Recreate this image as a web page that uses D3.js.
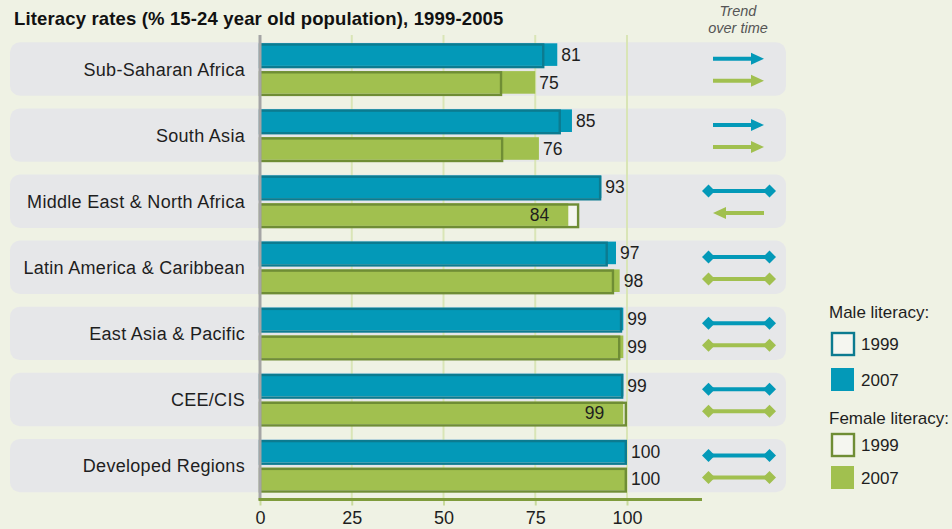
<!DOCTYPE html>
<html>
<head>
<meta charset="utf-8">
<script src="https://cdn.jsdelivr.net/npm/d3@7"></script>
<style>
  html, body { margin: 0; padding: 0; background: #eff2e4; }
  svg { display: block; }
  text { font-family: "Liberation Sans", Arial, Helvetica, sans-serif; }
</style>
</head>
<body>
<svg id="chart" width="952" height="529"></svg>
<script>
// ---- data ----
const categories = ["Sub-Saharan Africa", "South Asia", "Middle East & North Africa",
  "Latin America & Caribbean", "East Asia & Pacific", "CEE/CIS", "Developed Regions"];
const male1999   = [77.5, 82, 93, 94.8, 98.7, 99, 100];
const male2007   = [81, 85, 93, 97, 99, 99, 100];
const female1999 = [66, 66.3, 87, 96.5, 98.2, 100, 100];
const female2007 = [75, 76, 84, 98, 99, 99, 100];
const maleTrend   = ["up", "up", "same", "same", "same", "same", "same"];
const femaleTrend = ["up", "up", "down", "same", "same", "same", "same"];
const xTicks = [0, 25, 50, 75, 100];
const title = "Literacy rates (% 15-24 year old population), 1999-2005";

// ---- styles ----
const C = {
  bg: "#eff2e4", panel: "#e6e7e9", grid: "#d9e5b6",
  teal: "#0399b8", tealDark: "#0c7b90",
  green: "#a1c04f", greenDark: "#6f8d35",
  axisGreen: "#7f9c3c", axisGray: "#a5a5a5", text: "#1e1e1e", empty: "#f5f6f0"
};

const svg = d3.select("#chart");
svg.append("rect").attr("width", 952).attr("height", 529).attr("fill", C.bg);

const x = d3.scaleLinear().domain([0, 100]).range([260, 627]);
const y = d3.scaleBand().domain(categories).range([42.3, 492.3]).paddingInner(0.192).paddingOuter(0);

// title
svg.append("text").attr("x", 14).attr("y", 25).attr("font-size", 18.5).attr("font-weight", "bold")
  .attr("letter-spacing", 0.15).attr("fill", "#111").text(title);

// trend header
svg.append("text").attr("x", 738).attr("y", 16).attr("text-anchor", "middle")
  .attr("font-size", 14.5).attr("font-style", "italic").attr("fill", "#555").text("Trend");
svg.append("text").attr("x", 738).attr("y", 33).attr("text-anchor", "middle")
  .attr("font-size", 14.5).attr("font-style", "italic").attr("fill", "#555").text("over time");

// panels
svg.append("g").selectAll("rect").data(categories).join("rect")
  .attr("x", 10).attr("y", d => y(d)).attr("width", 776).attr("height", y.bandwidth())
  .attr("rx", 10).attr("fill", C.panel);

// gridlines
svg.append("g").selectAll("line").data(xTicks.filter(t => t > 0)).join("line")
  .attr("x1", d => x(d)).attr("x2", d => x(d)).attr("y1", 35).attr("y2", 500)
  .attr("stroke", C.grid).attr("stroke-width", 2);

// category labels
svg.append("g").selectAll("text").data(categories).join("text")
  .attr("x", 245).attr("y", d => y(d) + y.bandwidth() / 2 + 6.5)
  .attr("text-anchor", "end").attr("font-size", 18).attr("letter-spacing", 0.3)
  .attr("fill", C.text).text(d => d);

// bars
const rows = categories.map((c, i) => ({
  c, i,
  bars: [
    { v99: male1999[i], v07: male2007[i], fill: C.teal, dark: C.tealDark, off: 1, trend: maleTrend[i] },
    { v99: female1999[i], v07: female2007[i], fill: C.green, dark: C.greenDark, off: 28.8, trend: femaleTrend[i] }
  ]
}));
const barH = 22.6;
const gBars = svg.append("g");
rows.forEach(r => {
  r.bars.forEach(b => {
    const top = y(r.c) + b.off;
    // 1999 base (empty)
    gBars.append("rect").attr("x", x(0)).attr("y", top + 1.2)
      .attr("width", x(b.v99) - x(0) - 1.2).attr("height", barH).attr("fill", C.empty);
    // 2007 fill
    gBars.append("rect").attr("x", x(0)).attr("y", top)
      .attr("width", x(b.v07) - x(0)).attr("height", barH).attr("fill", b.fill);
    // 1999 outline
    gBars.append("rect").attr("x", x(0)).attr("y", top + 1.2)
      .attr("width", x(b.v99) - x(0) - 1.2).attr("height", barH)
      .attr("fill", "none").attr("stroke", b.dark).attr("stroke-width", 2.4);
    // value label
    const inside = b.v07 < b.v99 - 0.5;
    gBars.append("text")
      .attr("x", inside ? x(b.v07) - 19 : x(Math.max(b.v99, b.v07)) + 4)
      .attr("y", top + barH / 2 + 6.5)
      .attr("text-anchor", inside ? "end" : "start")
      .attr("font-size", 17.5).attr("fill", C.text)
      .text(Math.round(b.v07));
  });
});

// axes lines
svg.append("line").attr("x1", x(0)).attr("x2", x(0)).attr("y1", 35).attr("y2", 500)
  .attr("stroke", C.axisGray).attr("stroke-width", 3);

const xAxis = d3.axisBottom(x).tickValues(xTicks).tickSize(6).tickPadding(6).tickSizeOuter(0);
const gx = svg.append("g").attr("transform", "translate(0,499.5)").call(xAxis);
gx.select(".domain").remove();
gx.selectAll(".tick line").attr("stroke", "#c8da9c").attr("stroke-width", 2);
gx.selectAll(".tick text").attr("font-size", 18).attr("fill", C.text)
  .attr("font-family", "Liberation Sans, Arial, sans-serif");
svg.append("line").attr("x1", x(0) - 1.5).attr("x2", 702).attr("y1", 499.5).attr("y2", 499.5)
  .attr("stroke", C.axisGreen).attr("stroke-width", 3);

// trend arrows
const gT = svg.append("g");
function drawTrend(type, cy, color) {
  const x1 = 713, x2 = 764;
  if (type === "same") {
    gT.append("line").attr("x1", 708.5).attr("x2", 769.5).attr("y1", cy).attr("y2", cy)
      .attr("stroke", color).attr("stroke-width", 4);
    [708.5, 769.5].forEach(cx => {
      gT.append("path").attr("d", `M${cx - 6.5},${cy} L${cx},${cy - 6.5} L${cx + 6.5},${cy} L${cx},${cy + 6.5} Z`)
        .attr("fill", color);
    });
  } else if (type === "up") {
    gT.append("line").attr("x1", x1).attr("x2", x2 - 10).attr("y1", cy).attr("y2", cy)
      .attr("stroke", color).attr("stroke-width", 4);
    gT.append("path").attr("d", `M${x2 - 13},${cy - 6} L${x2},${cy} L${x2 - 13},${cy + 6} Z`).attr("fill", color);
  } else {
    gT.append("line").attr("x1", x1 + 10).attr("x2", x2).attr("y1", cy).attr("y2", cy)
      .attr("stroke", color).attr("stroke-width", 4);
    gT.append("path").attr("d", `M${x1 + 13},${cy - 6} L${x1},${cy} L${x1 + 13},${cy + 6} Z`).attr("fill", color);
  }
}
rows.forEach(r => {
  drawTrend(r.bars[0].trend, y(r.c) + 16.5, C.teal);
  drawTrend(r.bars[1].trend, y(r.c) + 38.5, C.green);
});

// legend
const lg = svg.append("g");
const legendItems = [
  { head: "Male literacy:", hy: 318, items: [
    { label: "1999", y: 332, fill: C.empty, stroke: C.tealDark },
    { label: "2007", y: 368, fill: C.teal, stroke: null } ] },
  { head: "Female literacy:", hy: 424, items: [
    { label: "1999", y: 433, fill: C.empty, stroke: C.greenDark },
    { label: "2007", y: 466, fill: C.green, stroke: null } ] }
];
legendItems.forEach(g => {
  lg.append("text").attr("x", 829).attr("y", g.hy).attr("font-size", 17).attr("fill", C.text).text(g.head);
  g.items.forEach(it => {
    const r = lg.append("rect").attr("x", it.stroke ? 832 : 831).attr("y", it.stroke ? it.y + 1 : it.y)
      .attr("width", it.stroke ? 22 : 23).attr("height", it.stroke ? 22 : 23).attr("fill", it.fill);
    if (it.stroke) r.attr("stroke", it.stroke).attr("stroke-width", 2.4);
    lg.append("text").attr("x", 861).attr("y", it.y + 18).attr("font-size", 17).attr("fill", C.text).text(it.label);
  });
});
</script>
</body>
</html>
